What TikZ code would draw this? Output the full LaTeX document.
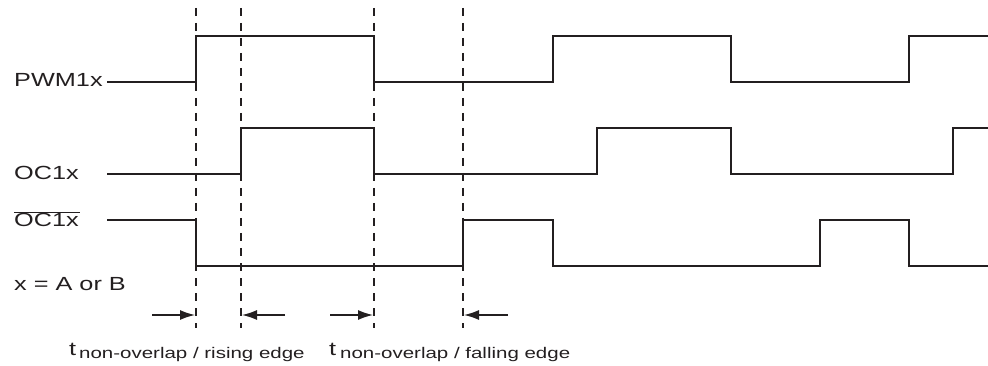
\documentclass[tikz,border=0pt]{standalone}
\usepackage{fontspec}
\setmainfont[FakeStretch=1.33]{Liberation Sans}
\usetikzlibrary{arrows.meta}
\definecolor{sigcol}{HTML}{231F20}
\begin{document}
\begin{tikzpicture}[x=1pt,y=-1pt,
  sig/.style={line width=2pt, draw=sigcol, line join=miter},
  guide/.style={line width=2.3pt, draw=sigcol, dash pattern=on 8pt off 7pt},
  dimarrow/.style={line width=1.4pt, draw=sigcol, -{Latex[length=15pt,width=10pt]}},
  lbl/.style={anchor=base west, inner sep=0pt, text=sigcol, font=\fontsize{19}{22}\selectfont},
  sublbl/.style={anchor=base west, inner sep=0pt, text=sigcol, font=\fontsize{15.4}{18}\selectfont}]
\useasboundingbox (0,0) rectangle (988,366);

% guide coordinates
\coordinate (g1t) at (196,8);  \coordinate (g1b) at (196,328);
\coordinate (g2t) at (241,8);  \coordinate (g2b) at (241,328);
\coordinate (g3t) at (374,8);  \coordinate (g3b) at (374,328);
\coordinate (g4t) at (463,8);  \coordinate (g4b) at (463,328);
\draw[guide] (g1t) -- (g1b);
\draw[guide] (g2t) -- (g2b);
\draw[guide] (g3t) -- (g3b);
\draw[guide] (g4t) -- (g4b);

% labels
\node[lbl] (pwm) at (14,87) {PWM1x};
\node[lbl] (oc) at (14,180) {OC1x};
\node[lbl] (ocn) at (14,227) {$\overline{\hbox{OC1x\kern1pt}}$};
\node[lbl] (xab) at (14,290) {x = A or B};

% signals
\draw[sig] (107,82.5) -- (196,82.5) -- (196,36) -- (374,36) -- (374,82.5) -- (553,82.5) -- (553,36) -- (731,36) -- (731,82.5) -- (909,82.5) -- (909,36) -- (988,36);
\draw[sig] (107,174) -- (241,174) -- (241,128) -- (374,128) -- (374,174) -- (597,174) -- (597,128) -- (731,128) -- (731,174) -- (953,174) -- (953,128) -- (988,128);
\draw[sig] (107,220) -- (196,220) -- (196,266) -- (463,266) -- (463,220) -- (553,220) -- (553,266) -- (820,266) -- (820,220) -- (909,220) -- (909,266) -- (988,266);

% dimension arrows
\coordinate (a1s) at (152,315); \coordinate (a1e) at (195,315);
\coordinate (a2s) at (285,315); \coordinate (a2e) at (242,315);
\coordinate (a3s) at (330,315); \coordinate (a3e) at (373,315);
\coordinate (a4s) at (508,315); \coordinate (a4e) at (464,315);
\draw[dimarrow] (a1s) -- (a1e);
\draw[dimarrow] (a2s) -- (a2e);
\draw[dimarrow] (a3s) -- (a3e);
\draw[dimarrow] (a4s) -- (a4e);

% timing labels
\node[lbl] (t1) at (69,355) {t};
\node[sublbl] (s1) at (79,358) {non-overlap / rising edge};
\node[lbl] (t2) at (329,355) {t};
\node[sublbl] (s2) at (340,358) {non-overlap / falling edge};
\end{tikzpicture}
\end{document}
